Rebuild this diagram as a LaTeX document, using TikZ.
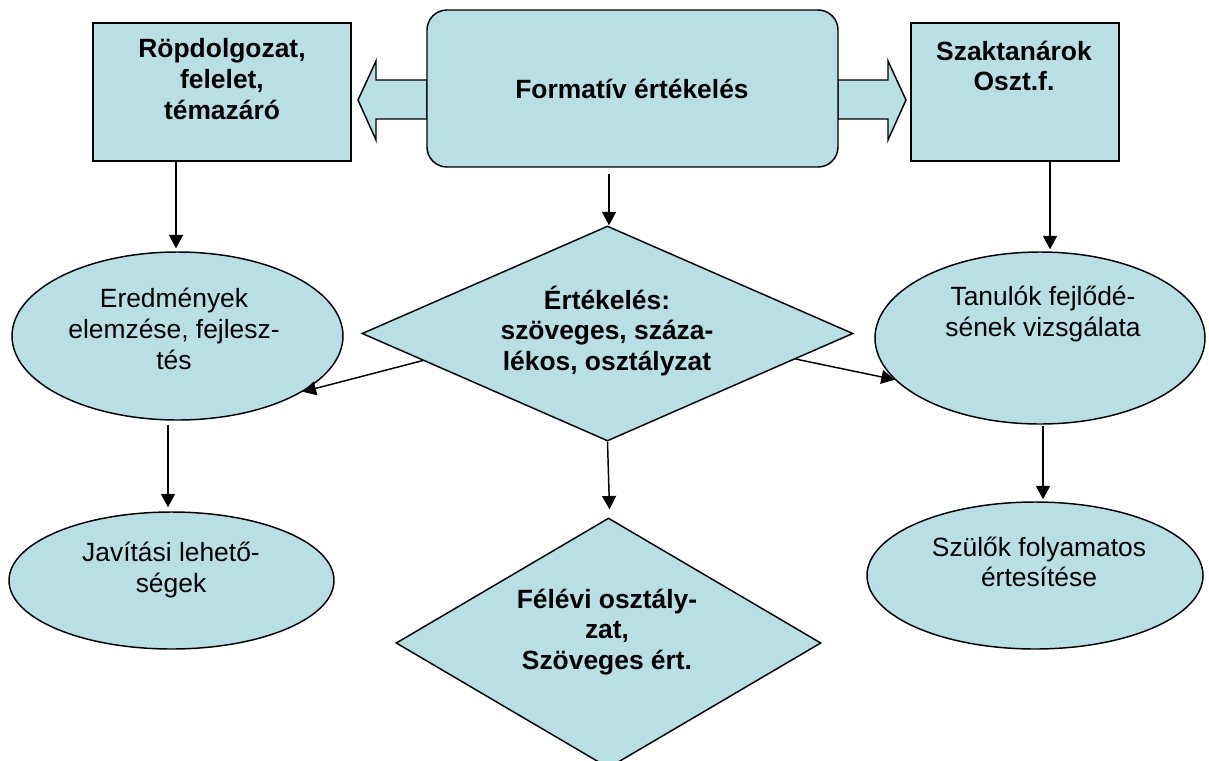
\documentclass[tikz,border=0pt]{standalone}
\usepackage{fontspec}
\setmainfont{Liberation Sans}
\usetikzlibrary{shapes.geometric,arrows.meta,calc}
\definecolor{boxfill}{RGB}{185,223,228}
\begin{document}
\begin{tikzpicture}[x=0.75pt,y=-0.75pt,
  shp/.style={draw=black,line width=1.1pt,fill=boxfill,inner sep=0pt},
  box/.style={shp,rectangle},
  oval/.style={shp,ellipse},
  dia/.style={shp,diamond},
  txt/.style={align=center,inner sep=0pt,font=\fontsize{19.8}{23}\selectfont},
  btxt/.style={txt,font=\fontsize{19.8}{23}\selectfont\bfseries},
  arr/.style={line width=1.1pt,-{Triangle[length=10pt,width=10.5pt]}}]
\useasboundingbox (0,0) rectangle (1209,760);

% block arrows on both sides of the central box
\draw[shp] (427,80) -- (376,80) -- (376,61) -- (358,100) -- (376,140) -- (376,119) -- (427,119) -- cycle;
\draw[shp] (838,80) -- (888,80) -- (888,61) -- (906,100) -- (888,140) -- (888,119) -- (838,119) -- cycle;

% shapes
\node[box,minimum width=193.5pt,minimum height=103.5pt] (r1) at (222,92) {};
\node[box,rounded corners=15pt,minimum width=308.25pt,minimum height=117.75pt] (fe) at (632.5,88.5) {};
\node[box,minimum width=156pt,minimum height=103.5pt] (r2) at (1015,92) {};
\node[oval,minimum width=248.25pt,minimum height=126pt] (e1) at (177.5,336) {};
\node[dia,minimum width=368.25pt,minimum height=161.25pt] (d1) at (607.5,333.5) {};
\node[oval,minimum width=247.5pt,minimum height=129pt] (e2) at (1040,338) {};
\node[oval,minimum width=243.75pt,minimum height=102.75pt] (e3) at (171.5,580.5) {};
\node[dia,minimum width=318.75pt,minimum height=187.5pt] (d2) at (608.5,643) {};
\node[oval,minimum width=252pt,minimum height=110.25pt] (e4) at (1035,575.5) {};

% texts
\node[btxt] (t1) at (222,79) {Röpdolgozat,\\felelet,\\témazáró};
\node[btxt] (tfe) at (632,89) {Formatív értékelés};
\node[btxt] (t2) at (1014,66) {Szaktanárok\\Oszt.f.};
\node[txt] (te1) at (174,329) {Eredmények\\elemzése, fejlesz-\\tés};
\node[btxt] (td1) at (607,331) {Értékelés:\\szöveges, száza-\\lékos, osztályzat};
\node[txt] (te2) at (1043,314) {Tanulók fejlődé-\\sének vizsgálata};
\node[txt] (te3) at (171,570) {Javítási lehető-\\ségek};
\node[btxt] (td2) at (607,632) {Félévi osztály-\\zat,\\Szöveges ért.};
\node[txt] (te4) at (1039,562) {Szülők folyamatos\\értesítése};

% connectors
\draw[arr] ($(e1.north |- r1.south)+(-1.5,0)$) -- ($(e1.north)+(-1.5,-3)$);
\draw[arr] ($(d1.north |- fe.south)+(1.5,6)$) -- ($(d1.north)+(1.5,0)$);
\draw[arr] ($(e2.north |- r2.south)+(10,0)$) -- ($(e2.north)+(10,-2)$);
\draw[arr] ($(d1.west)!0.25!(d1.south)$) -- (e1.-24);
\draw[arr] ($(d1.east)!0.236!(d1.south)$) -- (e2.196);
\draw[arr] ($(e3.north |- e1.south)+(-3.5,4)$) -- ($(e3.north)+(-3.5,-4)$);
\draw[arr] (d1.south) -- ($(d2.north)+(1,-8)$);
\draw[arr] ($(e4.north |- e2.south)+(8,1)$) -- ($(e4.north)+(8,-2)$);
\end{tikzpicture}
\end{document}
